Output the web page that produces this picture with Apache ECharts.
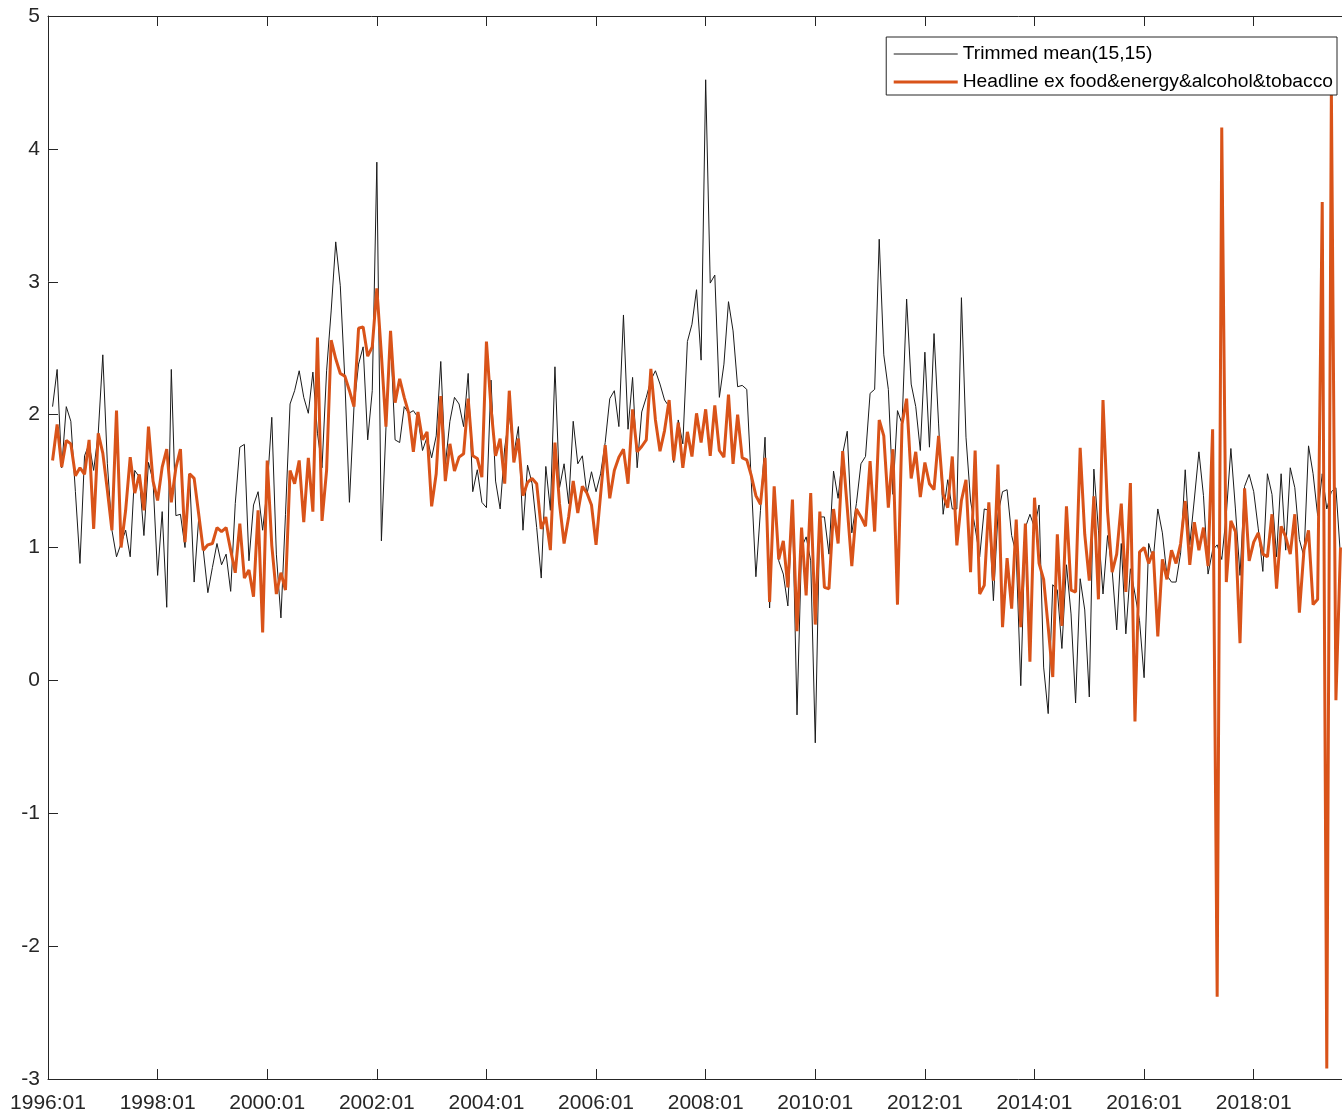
<!DOCTYPE html>
<html>
<head>
<meta charset="utf-8">
<script src="https://cdn.jsdelivr.net/npm/echarts@6/dist/echarts.min.js"></script>
<style>
html,body{margin:0;padding:0;background:#fff;}
#chart{width:1342px;height:1115px;}
</style>
</head>
<body>
<div id="chart"></div>
<script>
// Month offsets from 1996:01 (first observation is month 1)
const tickLabels = ['1996:01','1998:01','2000:01','2002:01','2004:01','2006:01','2008:01','2010:01','2012:01','2014:01','2016:01','2018:01'];
const seriesNames = ['Trimmed mean(15,15)', 'Headline ex food&energy&alcohol&tobacco'];

const trimmedMean = [
2.06,2.34,1.6,2.06,1.95,1.42,0.88,1.69,1.78,1.58,1.86,2.45,1.63,1.13,0.93,1.03,1.13,0.93,1.58,1.53,
1.09,1.64,1.5,0.79,1.27,0.55,2.34,1.24,1.25,1.0,1.555,0.74,1.22,0.98,0.66,0.85,1.03,0.87,0.95,0.67,
1.33,1.755,1.776,0.90,1.32,1.42,1.13,1.45,1.98,0.95,0.47,1.25,2.08,2.18,2.33,2.13,2.01,2.32,1.86,1.6,
2.33,2.78,3.30,2.97,2.26,1.34,2.06,2.38,2.51,1.81,2.18,3.9,1.05,1.9,2.57,1.81,1.79,2.06,2.01,2.03,
1.98,1.73,1.83,1.675,1.84,2.40,1.62,1.95,2.13,2.08,1.91,2.31,1.42,1.585,1.34,1.3,2.26,1.50,1.29,1.75,
2.0,1.7,1.91,1.13,1.62,1.48,1.15,0.77,1.61,1.28,2.36,1.45,1.63,1.33,1.95,1.63,1.69,1.40,1.57,1.42,
1.555,1.79,2.12,2.18,1.91,2.75,1.89,2.28,1.60,2.02,2.13,2.26,2.33,2.23,2.11,2.06,1.64,1.96,1.78,2.55,
2.68,2.94,2.41,4.52,2.99,3.05,2.13,2.38,2.85,2.63,2.21,2.22,2.19,1.49,0.78,1.28,1.83,0.545,1.44,0.90,
0.80,0.56,1.31,-0.26,1.0,1.08,0.90,-0.47,1.23,1.23,0.95,1.575,1.37,1.705,1.875,1.11,1.33,1.63,1.685,2.16,
2.19,3.32,2.45,2.19,1.40,2.03,1.93,2.87,2.23,2.06,1.73,2.47,1.755,2.61,1.93,1.25,1.51,1.29,1.29,2.88,
1.83,1.35,1.15,0.93,1.29,1.28,0.60,1.25,1.42,1.435,1.09,0.95,-0.04,1.15,1.25,1.15,1.32,0.10,-0.25,0.72,
0.68,0.24,0.87,0.50,-0.17,0.765,0.53,-0.125,1.59,1.13,0.65,1.09,0.83,0.38,1.03,0.35,0.84,0.65,0.45,0.02,
1.03,0.91,1.29,1.11,0.79,0.74,0.74,0.96,1.585,1.02,1.365,1.72,1.39,0.80,0.98,1.02,0.91,1.25,1.745,1.29,
0.79,1.46,1.55,1.42,1.14,0.82,1.555,1.40,0.93,1.555,0.98,1.60,1.45,1.06,0.93,1.765,1.555,1.24,1.555,1.29,
1.42,1.45,0.93
];

const headlineEx = [
1.655,1.926,1.605,1.806,1.78,1.54,1.60,1.55,1.81,1.14,1.86,1.71,1.43,1.13,2.03,1.00,1.28,1.68,1.41,1.55,
1.28,1.91,1.50,1.354,1.605,1.74,1.34,1.6,1.74,1.04,1.555,1.52,1.25,0.98,1.02,1.03,1.15,1.12,1.15,0.98,
0.81,1.18,0.77,0.83,0.63,1.28,0.36,1.655,1.016,0.65,0.81,0.68,1.58,1.48,1.655,1.19,1.675,1.27,2.58,1.20,
1.58,2.56,2.42,2.31,2.29,2.18,2.06,2.65,2.66,2.44,2.51,2.95,2.45,1.91,2.63,2.09,2.27,2.13,2.01,1.72,
2.02,1.81,1.87,1.31,1.555,2.14,1.50,1.78,1.575,1.68,1.705,2.12,1.69,1.67,1.53,2.55,2.05,1.69,1.82,1.48,
2.18,1.64,1.82,1.39,1.49,1.52,1.48,1.14,1.23,0.98,1.79,1.33,1.03,1.23,1.50,1.26,1.46,1.41,1.32,1.02,
1.40,1.77,1.37,1.58,1.68,1.74,1.48,2.04,1.72,1.76,1.81,2.345,1.96,1.725,1.88,2.11,1.655,1.94,1.60,1.87,
1.685,2.01,1.79,2.04,1.69,2.07,1.73,1.68,2.15,1.63,2.00,1.675,1.66,1.54,1.39,1.325,1.675,0.59,1.46,0.91,
1.05,0.70,1.36,0.37,1.15,0.64,1.41,0.42,1.27,0.70,0.69,1.29,1.03,1.725,1.3,0.86,1.29,1.23,1.16,1.65,
1.12,1.96,1.84,1.30,1.74,0.57,1.93,2.12,1.52,1.72,1.38,1.64,1.48,1.435,1.84,1.40,1.30,1.685,1.016,1.354,
1.51,0.815,1.73,0.65,0.715,1.34,0.75,1.625,0.40,0.92,0.54,1.21,0.40,1.18,0.14,1.375,0.88,0.76,0.40,0.025,
1.10,0.41,1.31,0.68,0.665,1.75,1.10,0.75,1.385,0.61,2.11,1.27,0.815,0.95,1.33,0.665,1.485,-0.31,0.965,1.0,
0.88,0.97,0.33,0.91,0.76,0.98,0.88,1.03,1.35,0.87,1.19,0.98,1.15,0.86,1.89,-2.38,4.16,0.74,1.20,1.12,
0.28,1.445,0.90,1.04,1.11,0.95,0.93,1.25,0.69,1.16,1.08,0.95,1.25,0.51,0.98,1.13,0.57,0.61,3.60,-2.92,
4.45,-0.15,1.0
];

const toPairs = arr => arr.map((v, k) => [k + 1, v]);

const FONT = '"Liberation Sans", Arial, Helvetica, sans-serif';
const AX = '#262626';
const BLACK = '#1a1a1a';
const ORANGE = '#D95319';

const chart = echarts.init(document.getElementById('chart'), null, {renderer: 'canvas'});
chart.setOption({
  animation: false,
  backgroundColor: '#fff',
  grid: {left: 48, right: 0, top: 16, bottom: 36, containLabel: false},
  legend: {
    orient: 'vertical',
    right: 5,
    top: 37,
    backgroundColor: '#fff',
    borderColor: AX,
    borderWidth: 1,
    borderRadius: 0,
    padding: [6, 4, 2, 6],
    itemWidth: 64,
    itemHeight: 14,
    itemGap: 6,
    itemStyle: {color: 'rgba(0,0,0,0)', borderWidth: 0, opacity: 0},
    textStyle: {fontFamily: FONT, fontSize: 19.25, color: '#000', lineHeight: 22},
    data: [
      {name: seriesNames[0], lineStyle: {color: BLACK, width: 1}},
      {name: seriesNames[1], lineStyle: {color: ORANGE, width: 3}}
    ]
  },
  xAxis: [{
    type: 'value',
    min: 0,
    max: 283.33,
    interval: 24,
    position: 'bottom',
    axisLine: {show: true, onZero: false, lineStyle: {color: AX, width: 1}},
    axisTick: {show: true, inside: true, length: 10, lineStyle: {color: AX}},
    axisLabel: {
      show: true, margin: 14, color: AX, fontFamily: FONT, fontSize: 21,
      showMaxLabel: false,
      formatter: v => (v % 24 === 0 && tickLabels[v / 24]) ? tickLabels[v / 24] : ''
    },
    splitLine: {show: false}
  }, {
    type: 'value',
    min: 0,
    max: 283.33,
    interval: 24,
    position: 'top',
    axisLine: {show: true, onZero: false, lineStyle: {color: AX, width: 1}},
    axisTick: {show: true, inside: true, length: 10, lineStyle: {color: AX}},
    axisLabel: {show: false},
    splitLine: {show: false}
  }],
  yAxis: {
    type: 'value',
    min: -3,
    max: 5,
    interval: 1,
    axisLine: {show: true, onZero: false, lineStyle: {color: AX, width: 1}},
    axisTick: {show: true, inside: true, length: 10, lineStyle: {color: AX}},
    axisLabel: {margin: 8, color: AX, fontFamily: FONT, fontSize: 21},
    splitLine: {show: false}
  },
  series: [{
    name: seriesNames[0],
    type: 'line',
    xAxisIndex: 0,
    data: toPairs(trimmedMean),
    symbol: 'none',
    showSymbol: false,
    color: BLACK,
    lineStyle: {color: BLACK, width: 1},
    z: 2
  }, {
    name: seriesNames[1],
    type: 'line',
    xAxisIndex: 0,
    data: toPairs(headlineEx),
    symbol: 'none',
    showSymbol: false,
    color: ORANGE,
    lineStyle: {color: ORANGE, width: 3},
    z: 3
  }]
});
</script>
</body>
</html>
